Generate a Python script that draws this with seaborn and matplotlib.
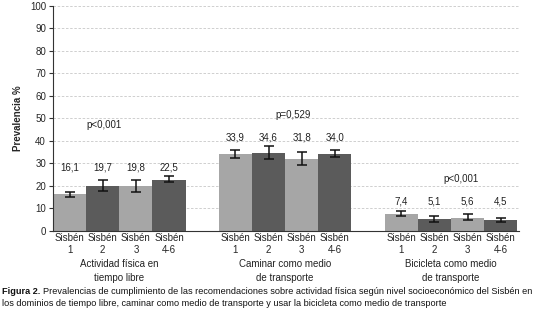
import pandas as pd
import matplotlib
matplotlib.use("Agg")
import matplotlib.pyplot as plt
import seaborn as sns

# datos
grupos = ["Actividad física en\ntiempo libre", "Caminar como medio\nde transporte",
          "Bicicleta como medio\nde transporte"]
niveles = ["Sisbén\n1", "Sisbén\n2", "Sisbén\n3", "Sisbén\n4-6"]
prev_libre = [16.1, 19.7, 19.8, 22.5]
prev_caminar = [33.9, 34.6, 31.8, 34.0]
prev_bici = [7.4, 5.1, 5.6, 4.5]
ic_inf_libre = [15.0, 17.7, 17.4, 21.6]
ic_sup_libre = [17.4, 22.3, 22.3, 24.1]
ic_inf_caminar = [32.3, 32.0, 29.3, 32.8]
ic_sup_caminar = [35.7, 37.5, 35.0, 36.0]
ic_inf_bici = [6.6, 4.0, 4.8, 3.9]
ic_sup_bici = [8.8, 6.7, 7.5, 5.5]
p_valores = ["p<0,001", "p=0,529", "p<0,001"]

# posiciones de los textos p (en unidades del eje)
p_x_desplaz = [-0.09, 0.05, 0.06]
p_alto = [47, 51.3, 22.8]

claro = '#a6a6a6'
oscuro = '#5b5b5b'
texto = '#222222'
fs = 7

prevs = [prev_libre, prev_caminar, prev_bici]
infs = [ic_inf_libre, ic_inf_caminar, ic_inf_bici]
sups = [ic_sup_libre, ic_sup_caminar, ic_sup_bici]
filas = []
for g, pv, li, ls in zip(grupos, prevs, infs, sups):
    for n, v, a, b in zip(niveles, pv, li, ls):
        filas.append({'grupo': g, 'nivel': n, 'prev': v, 'inf': a, 'sup': b})
df = pd.DataFrame(filas)

sns.set_style('white')
plt.rcParams['font.family'] = ['Liberation Sans', 'DejaVu Sans']
plt.rcParams['text.color'] = texto

fig = plt.figure(figsize=(5.35, 3.15), dpi=100)
ax = fig.add_axes([0.099, 0.268, 0.871, 0.713])

sns.barplot(data=df, x='grupo', y='prev', hue='nivel', order=grupos, hue_order=niveles,
            palette=[claro, oscuro, claro, oscuro], errorbar=None, width=0.8,
            saturation=1, linewidth=0, ax=ax, legend=False, zorder=2)

# barras de error y etiquetas de valor
centros = []
for i, g in enumerate(grupos):
    sub = df[df['grupo'] == g]
    for j, (_, fila) in enumerate(sub.iterrows()):
        xc = i - 0.3 + 0.2 * j
        centros.append(xc)
        ax.errorbar(xc, fila['prev'],
                    yerr=[[fila['prev'] - fila['inf']], [fila['sup'] - fila['prev']]],
                    fmt='none', ecolor='#111111', elinewidth=1.1, capsize=3.8,
                    capthick=1.1, zorder=3)
    tope = sub['sup'].max() + 4
    for j, (_, fila) in enumerate(sub.iterrows()):
        ax.text(i - 0.3 + 0.2 * j, tope, f"{fila['prev']:.1f}".replace('.', ','),
                ha='center', va='center', fontsize=fs)
    ax.text(i + p_x_desplaz[i], p_alto[i], p_valores[i], ha='center', va='center',
            fontsize=fs)
    ax.text(i, -12.8, g, ha='center', va='top', fontsize=fs, linespacing=1.4)

ax.set_xticks(centros)
ax.set_xticklabels(niveles * 3, fontsize=fs, linespacing=1.25)
ax.tick_params(axis='x', which='major', length=0, pad=2)
bordes = []
for i in range(3):
    bordes += [i - 0.4 + 0.2 * k for k in range(5)]
ax.set_xticks(bordes, minor=True)
ax.tick_params(axis='x', which='minor', length=3, width=0.8, direction='out', color='#333333')

ax.set_ylim(0, 100)
ax.set_xlim(-0.4, 2.41)
ax.set_yticks(range(0, 101, 10))
ax.tick_params(axis='y', length=3, width=0.8, direction='out', labelsize=fs, pad=2,
               color='#333333', left=True)
ax.yaxis.grid(True, linestyle=(0, (3, 2)), color='#c8c8c8', linewidth=0.6, zorder=0)
ax.set_axisbelow(True)
ax.set_xlabel('')
ax.set_ylabel('Prevalencia %', fontsize=fs, fontweight='bold', labelpad=5)
sns.despine(ax=ax)
ax.spines['left'].set_color('#333333')
ax.spines['bottom'].set_color('#333333')
ax.spines['left'].set_linewidth(0.8)
ax.spines['bottom'].set_linewidth(0.8)

# pie de figura
t1 = fig.text(0.004, 0.066, 'Figura 2.', fontsize=6.6, fontweight='bold', color='#111111')
fig.canvas.draw()
ext = t1.get_window_extent()
fig.text((ext.x1 + 2) / fig.bbox.width, 0.066,
         'Prevalencias de cumplimiento de las recomendaciones sobre actividad física según '
         'nivel socioeconómico del Sisbén en', fontsize=6.6, color='#111111')
fig.text(0.004, 0.028, 'los dominios de tiempo libre, caminar como medio de transporte y usar '
         'la bicicleta como medio de transporte', fontsize=6.6, color='#111111')

fig.savefig('out.png', dpi=100, facecolor='white')
plt.close(fig)
